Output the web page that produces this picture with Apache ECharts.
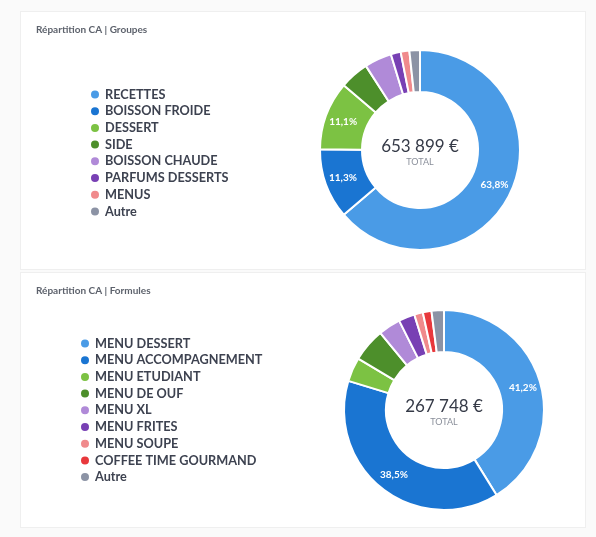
<!DOCTYPE html>
<html>
<head>
<meta charset="utf-8">
<script src="https://cdn.jsdelivr.net/npm/echarts@6/dist/echarts.min.js"></script>
<style>
  html, body { margin: 0; padding: 0; background: #fafafa; width: 596px; height: 537px; overflow: hidden; }
  .panel { position: absolute; left: 20px; width: 566px; background: #ffffff; border: 1px solid #efefef; box-sizing: border-box; }
  #groupes { top: 11px; height: 259px; }
  #formules { top: 272px; height: 256px; }
</style>
</head>
<body>
<div class="panel" id="groupes"></div>
<div class="panel" id="formules"></div>
<script>
// Répartition CA | Groupes  (parts en %)
const groupesNames = ['RECETTES', 'BOISSON FROIDE', 'DESSERT', 'SIDE', 'BOISSON CHAUDE', 'PARFUMS DESSERTS', 'MENUS', 'Autre']
const groupesValues = [63.8, 11.3, 11.1, 4.7, 4.4, 1.6, 1.4, 1.7]
const groupesColors = ['#4a9be6', '#1a75d2', '#7cc243', '#4d8f2b', '#b08ad8', '#7840b4', '#f08a8c', '#8c93a5']
const groupesTotal = 653899

// Répartition CA | Formules
const formulesNames = ['MENU DESSERT', 'MENU ACCOMPAGNEMENT', 'MENU ETUDIANT', 'MENU DE OUF', 'MENU XL', 'MENU FRITES', 'MENU SOUPE', 'COFFEE TIME GOURMAND', 'Autre']
const formulesValues = [41.2, 38.5, 3.9, 5.4, 3.6, 2.6, 1.4, 1.4, 2.0]
const formulesColors = ['#4a9be6', '#1a75d2', '#7cc243', '#4d8f2b', '#b08ad8', '#7840b4', '#f08a8c', '#e8383c', '#8c93a5']
const formulesTotal = 267748

const FONT = 'Lato, "Open Sans", sans-serif'

function formatEuro(v) {
  return String(v).replace(/\B(?=(\d{3})+(?!\d))/g, ' ') + ' €'
}

function initDonut(el, title, names, values, colors, total, center, legendLeft, legendTop) {
  const chart = echarts.init(document.getElementById(el))
  chart.setOption({
    animation: false,
    color: colors,
    title: {
      text: title,
      left: 10,
      top: 8,
      textStyle: {
        fontFamily: FONT,
        fontSize: 10,
        fontWeight: 'bold',
        color: '#5d626c'
      }
    },
    legend: {
      orient: 'vertical',
      left: legendLeft,
      top: legendTop,
      icon: 'circle',
      itemWidth: 10,
      itemHeight: 10,
      itemGap: 3.7,
      selectedMode: false,
      textStyle: {
        fontFamily: FONT,
        fontSize: 12.7,
        fontWeight: 'bold',
        lineHeight: 12,
        color: '#3d4250'
      },
      data: names
    },
    graphic: [
      {
        type: 'text',
        x: center[0],
        y: center[1] - 3,
        style: {
          text: formatEuro(total),
          align: 'center',
          verticalAlign: 'middle',
          font: '17px ' + FONT,
          fill: '#353a47'
        }
      },
      {
        type: 'text',
        x: center[0],
        y: center[1] + 12,
        style: {
          text: 'TOTAL',
          align: 'center',
          verticalAlign: 'middle',
          font: '9px ' + FONT,
          fill: '#8a8f9a'
        }
      }
    ],
    series: [
      {
        type: 'pie',
        center: center,
        radius: [58, 100],
        startAngle: 90,
        clockwise: true,
        avoidLabelOverlap: false,
        itemStyle: {
          borderColor: '#ffffff',
          borderWidth: 2
        },
        label: {
          show: true,
          position: 'inside',
          fontFamily: FONT,
          fontSize: 10,
          fontWeight: 'bold',
          color: '#ffffff',
          formatter: function(p) {
            return p.value >= 10 ? String(p.value.toFixed(1)).replace('.', ',') + '%' : ''
          }
        },
        labelLine: { show: false },
        emphasis: { disabled: true },
        data: names.map(function(n, i) {
          return { name: n, value: values[i] }
        })
      }
    ]
  })
  return chart
}

initDonut('groupes', 'Répartition CA | Groupes', groupesNames, groupesValues, groupesColors, groupesTotal, [399, 138], 63, 71)
initDonut('formules', 'Répartition CA | Formules', formulesNames, formulesValues, formulesColors, formulesTotal, [423, 137], 53, 59)
</script>
</body>
</html>
